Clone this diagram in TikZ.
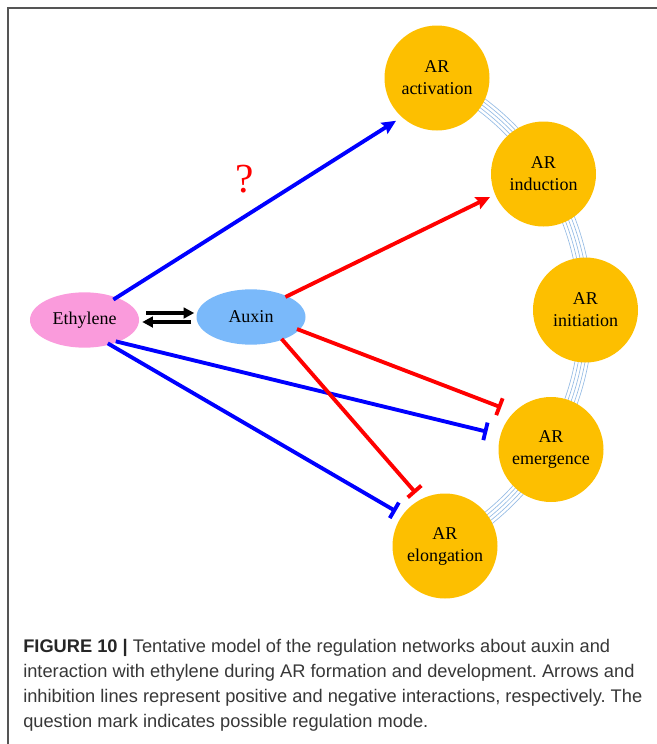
\documentclass[tikz,border=0pt]{standalone}
\usepackage{fontspec}
\setmainfont{Liberation Serif}
\newfontfamily\capfont{Liberation Sans}
\usetikzlibrary{arrows.meta,calc,shapes.geometric}
\definecolor{arorange}{RGB}{253,191,0}
\definecolor{ethpink}{RGB}{250,155,220}
\definecolor{auxblue}{RGB}{122,185,250}
\definecolor{arcblue}{RGB}{150,188,228}
\definecolor{capgray}{RGB}{55,55,55}
\definecolor{framegray}{RGB}{85,85,85}
\frenchspacing
\begin{document}
\begin{tikzpicture}[x=0.75pt,y=-0.75pt,
  stage/.style={circle,fill=arorange,minimum size=78.75pt,inner sep=0pt,align=center,
    font=\fontsize{13.5pt}{16.5pt}\selectfont},
  hormone/.style={ellipse,minimum width=81.75pt,minimum height=41.5pt,inner sep=0pt,
    font=\fontsize{13.5pt}{16.5pt}\selectfont},
  posline/.style={line width=2.9pt,-{Stealth[length=10.5pt,width=9.5pt,inset=1.5pt]}},
  negline/.style={line width=2.9pt,-{Bar[width=13.5pt,line width=2.9pt]}},
  dblarrow/.style={line width=2.8pt,black,-{Triangle[length=8pt,width=8pt]}},
  ropeline/.style={arcblue,line width=0.5pt},
  caption/.style={anchor=base west,inner sep=0pt,font=\capfont\fontsize{13.7pt}{18.75pt}\selectfont,text=capgray}
]
\useasboundingbox (0,0) rectangle (657,744);
% frame
\draw[framegray,line width=1.1pt] (8,744) -- (8,8) -- (657,8);
% rope arcs
\coordinate (rc) at (324,314);
\foreach \r in {191.5,194,196.5,199,201.5}{
  \draw[ropeline] ($(rc)+(64:\r pt)$) arc[start angle=64,end angle=-63,radius=\r pt];
}
% nodes
\node[stage] (act) at (437,78) {AR\\activation};
\node[stage] (ind) at (543.5,174) {AR\\induction};
\node[stage] (ini) at (585.5,310) {AR\\initiation};
\node[stage] (emg) at (551,449.5) {AR\\emergence};
\node[stage] (elg) at (445,546) {AR\\elongation};
\node[hormone,fill=ethpink] (eth) at (84.5,320) {Ethylene};
\node[hormone,fill=auxblue] (aux) at (251,317) {Auxin};
\node[text=red,font=\fontsize{31pt}{34pt}\selectfont,inner sep=0pt] (q) at (244.5,179) {?};
% double arrows
\draw[dblarrow] ([xshift=5.25pt,yshift=5.25pt]eth.east) -- ([xshift=-1.5pt,yshift=3pt]aux.west);
\draw[dblarrow] ([xshift=-3.75pt,yshift=-3.75pt]aux.west) -- ([xshift=2.25pt,yshift=-1.5pt]eth.east);
% connectors
\draw[posline,blue,shorten <=-3pt,shorten >=5pt] (eth.35) -- (act.228);
\draw[posline,red,shorten <=-1.5pt,shorten >=4pt] (aux.30) -- (ind.203);
\draw[negline,red,shorten <=-2pt,shorten >=10pt] (aux.-15.5) -- (emg.135);
\draw[negline,blue,shorten <=-2pt,shorten >=10pt] (eth.-33) -- (emg.164);
\draw[negline,red,shorten <=-1pt,shorten >=6pt] (aux.-36) -- (elg.117);
\draw[negline,blue,shorten <=-2pt,shorten >=5.5pt] (eth.-44) -- (elg.144);
% caption
\node[caption] (c1) at (23,652) {{\bfseries\color{black!85}FIGURE 10 |} Tentative model of the regulation networks about auxin and};
\node[caption] (c2) at (23,677) {interaction with ethylene during AR formation and development. Arrows and};
\node[caption] (c3) at (23,702) {inhibition lines represent positive and negative interactions, respectively. The};
\node[caption] (c4) at (23,727) {question mark indicates possible regulation mode.};
\end{tikzpicture}
\end{document}
